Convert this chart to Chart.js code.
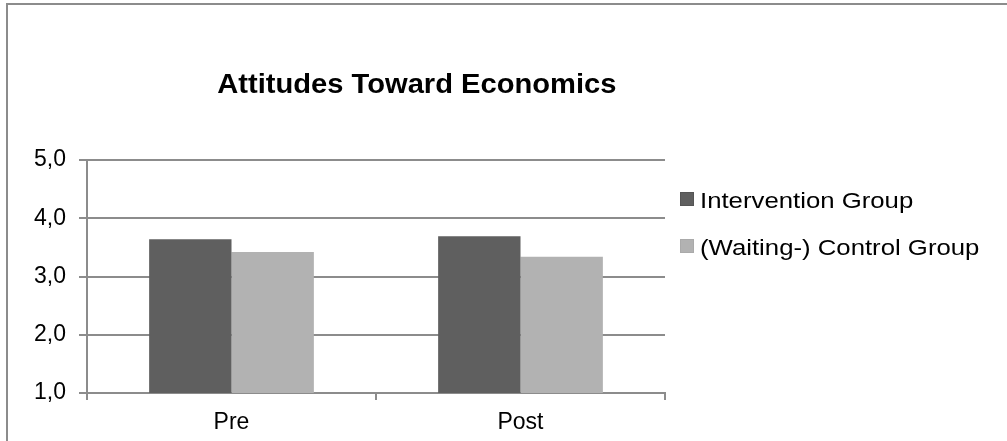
<!DOCTYPE html>
<html>
<head>
<meta charset="utf-8">
<script src="https://cdn.jsdelivr.net/npm/chart.js@4.4.1/dist/chart.umd.min.js"></script>
<style>
    html, body { margin: 0; padding: 0; background: #fff; overflow: hidden; }
    #wrap { position: relative; width: 1007px; height: 441px; font-family: "Liberation Sans", Arial, sans-serif; }
    #frame { position: absolute; left: 6px; top: 3px; width: 1100px; height: 600px; border: 2px solid #8c8c8c; box-sizing: border-box; }
    #chart { position: absolute; left: 0; top: 0; }
    #title { position: absolute; left: 0; top: 70px; width: 833px; text-align: center; font-weight: bold; font-size: 28px; line-height: 28px; color: #000; }
    #title span { display: inline-block; transform: scaleX(1.04); }
    .legend-box { position: absolute; width: 14px; height: 14px; box-sizing: border-box; }
    .legend-text { position: absolute; font-size: 22px; line-height: 22px; color: #000; white-space: nowrap; transform: scaleX(1.17); transform-origin: left center; }
</style>
</head>
<body>
<div id="wrap">
    <div id="frame"></div>
    <canvas id="chart" width="1007" height="441"></canvas>
    <div id="title"><span>Attitudes Toward Economics</span></div>
    <div id="legend"></div>
</div>
<script>
// datos del gráfico
const categories = ['Pre', 'Post'];
const seriesNames = ['Intervention Group', '(Waiting-) Control Group'];
const interventionValues = [3.64, 3.69];
const controlValues = [3.42, 3.34];
const seriesColors = ['#5f5f5f', '#b2b2b2'];
const yMin = 1;
const yMax = 5;
const yStep = 1;

const gridColor = '#8c8c8c';
const tickFont = { family: '"Liberation Sans", Arial, sans-serif', size: 23 };

const ctx = document.getElementById('chart').getContext('2d');
const chart = new Chart(ctx, {
    type: 'bar',
    data: {
        labels: categories,
        datasets: [
            { label: seriesNames[0], data: interventionValues, backgroundColor: seriesColors[0] },
            { label: seriesNames[1], data: controlValues, backgroundColor: seriesColors[1] }
        ]
    },
    options: {
        responsive: false,
        animation: false,
        devicePixelRatio: 1,
        layout: { padding: { left: 0, right: 342, top: 160, bottom: 0 } },
        datasets: { bar: { categoryPercentage: 0.57, barPercentage: 1 } },
        plugins: { legend: { display: false }, title: { display: false }, tooltip: { enabled: false } },
        scales: {
            x: {
                afterFit: (scale) => { scale.height = 48; },
                grid: { offset: true, drawOnChartArea: false, drawTicks: true, tickLength: 7, color: gridColor, lineWidth: 2 },
                border: { color: gridColor, width: 2 },
                ticks: { color: '#000', font: tickFont, padding: 9 }
            },
            y: {
                min: yMin,
                max: yMax,
                afterFit: (scale) => { scale.width = 87; },
                grid: { drawTicks: true, tickLength: 8, color: gridColor, lineWidth: 2 },
                border: { color: gridColor, width: 2 },
                ticks: {
                    stepSize: yStep,
                    color: '#000',
                    font: tickFont,
                    padding: 13,
                    callback: (v) => v.toFixed(1).replace('.', ',')
                }
            }
        }
    }
});

// leyenda en HTML a partir de los datasets
function renderLegend(container, datasets) {
    const tops = [192, 239];
    container.innerHTML = '';
    datasets.forEach((ds, i) => {
        container.innerHTML += `
            <div class="legend-box" style="left:680px;top:${tops[i]}px;background:${ds.backgroundColor};border:1px solid ${i === 0 ? '#555' : '#aaa'}"></div>
            <div class="legend-text" style="left:700px;top:${tops[i] - 2}px">${ds.label}</div>
        `;
    });
}
renderLegend(document.getElementById('legend'), chart.data.datasets);
</script>
</body>
</html>
